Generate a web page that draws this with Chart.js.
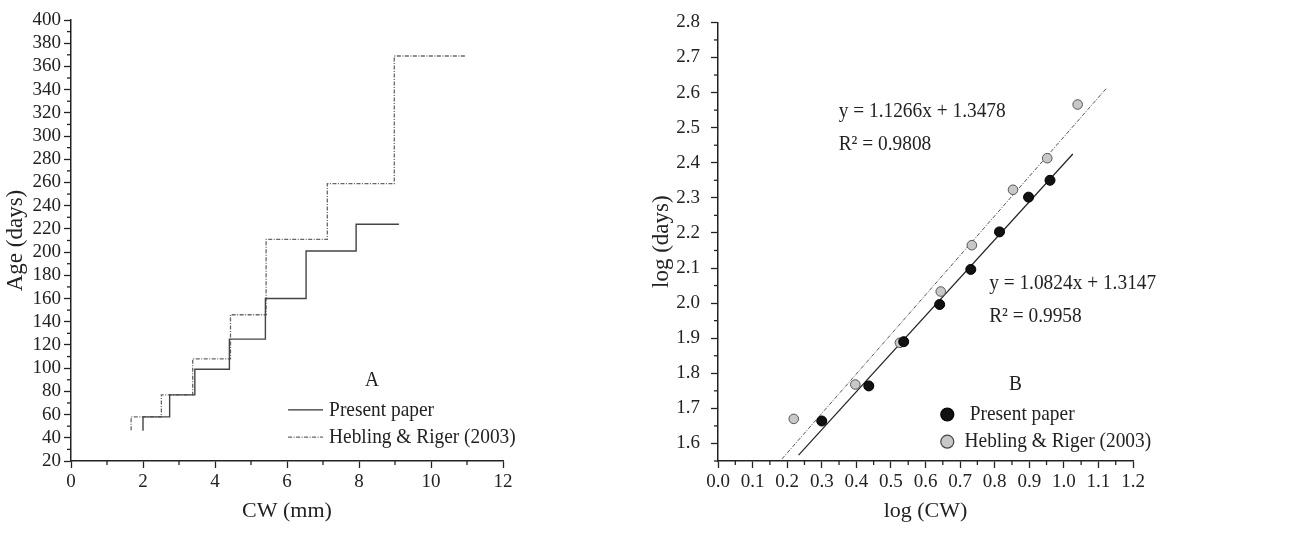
<!DOCTYPE html>
<html>
<head>
<meta charset="utf-8">
<script src="https://cdn.jsdelivr.net/npm/chart.js@4.4.1/dist/chart.umd.min.js"></script>
<style>
  body { margin: 0; background: #fff; }
  #left { position: absolute; left: 0; top: 0; }
  #right { position: absolute; left: 645px; top: 0; }
</style>
</head>
<body>
<canvas id="left" width="640" height="546"></canvas>
<canvas id="right" width="650" height="546"></canvas>
<script>
// Panel A: step curves, age (days) vs carapace width (mm)
const cwPresent = [2.0, 2.0, 2.74, 3.44, 4.40, 5.40, 6.53, 7.92, 9.11];
const agePresent = [46, 58, 77, 99, 125, 160, 201, 224, 224];
const cwHebling = [1.67, 1.67, 2.51, 3.38, 4.43, 5.42, 7.12, 8.98, 10.96];
const ageHebling = [46.5, 58, 77, 108, 146, 211, 259, 369, 369];

// Panel B: log-log points and fitted lines
const logCwPresent = [0.300, 0.436, 0.537, 0.641, 0.731, 0.814, 0.898, 0.960];
const logDaysPresent = [1.664, 1.764, 1.890, 1.996, 2.096, 2.203, 2.302, 2.350];
const logCwHebling = [0.219, 0.397, 0.526, 0.644, 0.734, 0.853, 0.952, 1.040];
const logDaysHebling = [1.670, 1.768, 1.887, 2.033, 2.165, 2.323, 2.413, 2.566];
const fitPresentX = [0.233, 1.026];
const fitPresentY = [1.567, 2.425];
const fitHeblingX = [0.185, 1.122];
const fitHeblingY = [1.556, 2.611];

const seriesNames = ["Present paper", "Hebling & Riger (2003)"];
const eqHebling = ["y = 1.1266x + 1.3478", "R\u00b2 = 0.9808"];
const eqPresent = ["y = 1.0824x + 1.3147", "R\u00b2 = 0.9958"];

const FONT = "'Liberation Serif', 'Times New Roman', serif";
const INK = "#222";
const DASH = [4, 1.5, 1, 1.5];
const SQUEEZE = 0.88;  // the source figure's lettering is a bit narrow

function pts(xs, ys) {
    return xs.map((x, i) => ({ x: x, y: ys[i] }));
}

function isMajor(v, step) {
    const r = v / step;
    return Math.abs(r - Math.round(r)) < 1e-6;
}

// short ticks for the minor values, the major ones come from the grid
const minorTicks = {
    id: "minorTicks",
    afterDraw(chart) {
        const ctx = chart.ctx;
        ctx.save();
        ctx.strokeStyle = INK;
        ctx.lineWidth = 1.3;
        for (const id of ["x", "y"]) {
            const sc = chart.scales[id];
            const step = sc.options.majorStep;
            sc.ticks.forEach(t => {
                if (isMajor(t.value, step)) return;
                const p = sc.getPixelForValue(t.value);
                ctx.beginPath();
                if (id === "x") {
                    ctx.moveTo(p, sc.top);
                    ctx.lineTo(p, sc.top + 4);
                } else {
                    ctx.moveTo(sc.right, p);
                    ctx.lineTo(sc.right - 4, p);
                }
                ctx.stroke();
            });
        }
        ctx.restore();
    }
};

function makeScale(min, max, step, major, digits, title, titlePad, size) {
    return {
        type: "linear",
        min: min,
        max: max,
        majorStep: major,
        border: { display: true, color: INK, width: 1.5 },
        grid: {
            drawOnChartArea: false,
            tickLength: 7,
            tickWidth: 1.3,
            tickColor: c => isMajor(c.tick.value, major) ? INK : "rgba(0,0,0,0)"
        },
        ticks: {
            stepSize: step,
            autoSkip: false,
            maxRotation: 0,
            color: INK,
            padding: 3,
            font: { family: FONT, size: 19 },
            callback: v => isMajor(v, major) ? v.toFixed(digits) : ""
        },
        title: {
            display: true,
            text: title,
            color: INK,
            padding: titlePad,
            font: { family: FONT, size: size }
        }
    };
}

function drawNotes(chart, items) {
    const ctx = chart.ctx;
    const xs = chart.scales.x, ys = chart.scales.y;
    ctx.save();
    items.forEach(it => {
        const px = xs.getPixelForValue(it.x), py = ys.getPixelForValue(it.y);
        if (it.text) {
            ctx.save();
            ctx.translate(px, py);
            ctx.scale(SQUEEZE, 1);
            ctx.fillStyle = INK;
            ctx.font = it.size + "px " + FONT;
            ctx.textAlign = it.align || "left";
            ctx.textBaseline = "middle";
            ctx.fillText(it.text, 0, 0);
            ctx.restore();
        } else if (it.line) {
            const px2 = xs.getPixelForValue(it.x2);
            ctx.strokeStyle = it.color;
            ctx.lineWidth = it.width;
            ctx.setLineDash(it.dash || []);
            ctx.beginPath();
            ctx.moveTo(px, py);
            ctx.lineTo(px2, py);
            ctx.stroke();
            ctx.setLineDash([]);
        } else if (it.dot) {
            ctx.fillStyle = it.fill;
            ctx.strokeStyle = it.stroke;
            ctx.lineWidth = 1.2;
            ctx.beginPath();
            ctx.arc(px, py, it.r, 0, Math.PI * 2);
            ctx.fill();
            ctx.stroke();
        }
    });
    ctx.restore();
}

// ---- Panel A ----
const scaleAx = makeScale(0, 12, 1, 2, 0, "CW (mm)", { top: 0, bottom: 22 }, 22);
scaleAx.afterFit = s => { s.height = 85; };
const scaleAy = makeScale(20, 400, 10, 20, 0, "Age (days)", { top: 2, bottom: 0 }, 23);
scaleAy.afterFit = s => { s.width = 71; };

new Chart(document.getElementById("left"), {
    type: "scatter",
    data: {
        datasets: [
            {
                label: seriesNames[0],
                data: pts(cwPresent, agePresent),
                showLine: true,
                stepped: true,
                borderColor: "#444",
                borderWidth: 1.4,
                pointRadius: 0
            },
            {
                label: seriesNames[1],
                data: pts(cwHebling, ageHebling),
                showLine: true,
                stepped: true,
                borderColor: "#666",
                borderWidth: 1.3,
                borderDash: DASH,
                pointRadius: 0
            }
        ]
    },
    options: {
        responsive: false,
        animation: false,
        layout: { padding: { top: 20, right: 137, left: 0, bottom: 0 } },
        plugins: { legend: { display: false }, tooltip: { enabled: false } },
        scales: { x: scaleAx, y: scaleAy }
    },
    plugins: [minorTicks, {
        id: "notesA",
        afterDraw(chart) {
            drawNotes(chart, [
                { text: "A", x: 8.36, y: 90, size: 22, align: "center" },
                { line: true, x: 6.03, x2: 7.0, y: 64, color: "#333", width: 1.3 },
                { text: seriesNames[0], x: 7.17, y: 64, size: 22 },
                { line: true, x: 6.03, x2: 7.0, y: 40.5, color: "#666", width: 1.2, dash: DASH },
                { text: seriesNames[1], x: 7.17, y: 40.5, size: 22 }
            ]);
        }
    }]
});

// ---- Panel B ----
const scaleBx = makeScale(0, 1.2, 0.05, 0.1, 1, "log (CW)", { top: 0, bottom: 22 }, 22);
scaleBx.afterFit = s => { s.height = 85; };
const scaleBy = makeScale(1.55, 2.8, 0.05, 0.1, 1, "log (days)", { top: 3, bottom: 0 }, 23);
scaleBy.ticks.padding = 11;
scaleBy.afterFit = s => { s.width = 73; };

new Chart(document.getElementById("right"), {
    type: "scatter",
    data: {
        datasets: [
            {
                label: seriesNames[0],
                data: pts(logCwPresent, logDaysPresent),
                backgroundColor: "#111",
                borderColor: "#000",
                borderWidth: 1,
                pointRadius: 5
            },
            {
                label: seriesNames[1],
                data: pts(logCwHebling, logDaysHebling),
                backgroundColor: "#c8c8c8",
                borderColor: "#555",
                borderWidth: 1,
                pointRadius: 4.8
            },
            {
                label: "fit present",
                data: pts(fitPresentX, fitPresentY),
                showLine: true,
                borderColor: "#222",
                borderWidth: 1.2,
                pointRadius: 0
            },
            {
                label: "fit hebling",
                data: pts(fitHeblingX, fitHeblingY),
                showLine: true,
                borderColor: "#555",
                borderWidth: 1,
                borderDash: DASH,
                pointRadius: 0
            }
        ]
    },
    options: {
        responsive: false,
        animation: false,
        layout: { padding: { top: 20, right: 162, left: 0, bottom: 0 } },
        plugins: { legend: { display: false }, tooltip: { enabled: false } },
        scales: { x: scaleBx, y: scaleBy }
    },
    plugins: [minorTicks, {
        id: "notesB",
        afterDraw(chart) {
            drawNotes(chart, [
                { text: eqHebling[0], x: 0.349, y: 2.546, size: 22 },
                { text: eqHebling[1], x: 0.349, y: 2.452, size: 22 },
                { text: eqPresent[0], x: 0.784, y: 2.056, size: 22 },
                { text: eqPresent[1], x: 0.784, y: 1.964, size: 22 },
                { text: "B", x: 0.86, y: 1.77, size: 22, align: "center" },
                { dot: true, x: 0.663, y: 1.6825, r: 6.5, fill: "#111", stroke: "#000" },
                { text: seriesNames[0], x: 0.728, y: 1.6825, size: 22 },
                { dot: true, x: 0.663, y: 1.605, r: 6.5, fill: "#c8c8c8", stroke: "#444" },
                { text: seriesNames[1], x: 0.713, y: 1.605, size: 22 }
            ]);
        }
    }]
});
</script>
</body>
</html>
